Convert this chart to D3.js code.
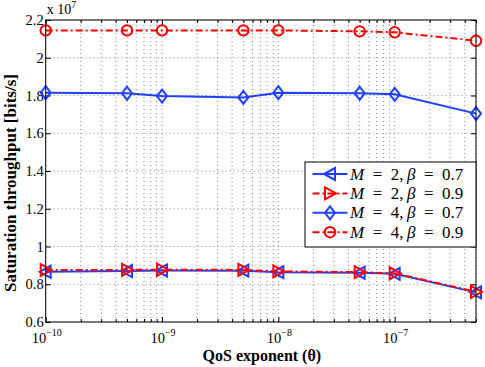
<!DOCTYPE html>
<html>
<head>
<meta charset="utf-8">
<script src="https://cdn.jsdelivr.net/npm/d3@7"></script>
<style>
  body { margin: 0; background: #fff; }
  svg text { font-family: "Liberation Serif", "Times New Roman", serif; fill: #000; }
</style>
</head>
<body>
<div id="chart"></div>
<script>
// QoS exponent values (x)
var theta = [1e-10, 5e-10, 1e-9, 5e-9, 1e-8, 5e-8, 1e-7, 5e-7];

// saturation throughput, units of 1e7 bits/s
var m2b07 = [0.866, 0.870, 0.873, 0.872, 0.864, 0.861, 0.855, 0.757];
var m2b09 = [0.875, 0.876, 0.877, 0.876, 0.868, 0.864, 0.858, 0.760];
var m4b07 = [1.815, 1.812, 1.797, 1.790, 1.815, 1.812, 1.806, 1.704];
var m4b09 = [2.145, 2.145, 2.145, 2.145, 2.145, 2.140, 2.135, 2.090];

var xTicks = [1e-10, 1e-9, 1e-8, 1e-7];
var xTickExp = ["\u221210", "\u22129", "\u22128", "\u22127"];
var yTicks = [0.6, 0.8, 1, 1.2, 1.4, 1.6, 1.8, 2, 2.2];
var yTickLabels = ["0.6", "0.8", "1", "1.2", "1.4", "1.6", "1.8", "2", "2.2"];

var series = [
    { M: "2", beta: "0.7", values: m2b07, color: "#2040ff", dash: null, marker: "triLeft" },
    { M: "2", beta: "0.9", values: m2b09, color: "#ff0000", dash: "7,3,2,3", marker: "triRight" },
    { M: "4", beta: "0.7", values: m4b07, color: "#2040ff", dash: null, marker: "diamond" },
    { M: "4", beta: "0.9", values: m4b09, color: "#ff0000", dash: "7,3,2,3", marker: "circle" }
];

var width = 485, height = 367;
var margin = { left: 45.7, right: 9, top: 20, bottom: 45 };

var svg = d3.select("#chart").append("svg")
    .attr("width", width)
    .attr("height", height);

var x = d3.scaleLog()
    .domain([1e-10, 5e-7])
    .range([margin.left, width - margin.right]);

var y = d3.scaleLinear()
    .domain([0.6, 2.2])
    .range([height - margin.bottom, margin.top]);

var x0 = x.range()[0], x1 = x.range()[1];
var y0 = y.range()[0], y1 = y.range()[1];

// minor x positions (2..9 of each decade)
var xMinor = [];
for (var e = -10; e <= -7; e++) {
    for (var k = 2; k <= 9; k++) {
        var v = k * Math.pow(10, e);
        if (v <= 5e-7) xMinor.push(v);
    }
}

// grid
var grid = svg.append("g").attr("class", "grid");
grid.selectAll("line.gx")
    .data(xTicks.concat(xMinor))
    .enter().append("line")
    .attr("x1", function(d) { return x(d); })
    .attr("x2", function(d) { return x(d); })
    .attr("y1", y0).attr("y2", y1)
    .attr("stroke", "#8a8a8a")
    .attr("stroke-width", 1)
    .attr("stroke-dasharray", "1,3");
grid.selectAll("line.gy")
    .data(yTicks)
    .enter().append("line")
    .attr("x1", x0).attr("x2", x1)
    .attr("y1", function(d) { return y(d); })
    .attr("y2", function(d) { return y(d); })
    .attr("stroke", "#8a8a8a")
    .attr("stroke-width", 1)
    .attr("stroke-dasharray", "1,3");

// axes with inward ticks
function styleAxis(g) {
    g.select(".domain").remove();
    g.selectAll("line").attr("stroke", "#000");
    g.selectAll("text").remove();
}
svg.append("g").attr("transform", "translate(0," + y0 + ")")
    .call(d3.axisBottom(x).tickValues(xTicks).tickSizeInner(-5).tickSizeOuter(0)).call(styleAxis);
svg.append("g").attr("transform", "translate(0," + y0 + ")")
    .call(d3.axisBottom(x).tickValues(xMinor).tickSizeInner(-3).tickSizeOuter(0)).call(styleAxis);
svg.append("g").attr("transform", "translate(0," + y1 + ")")
    .call(d3.axisTop(x).tickValues(xTicks).tickSizeInner(-5).tickSizeOuter(0)).call(styleAxis);
svg.append("g").attr("transform", "translate(0," + y1 + ")")
    .call(d3.axisTop(x).tickValues(xMinor).tickSizeInner(-3).tickSizeOuter(0)).call(styleAxis);
svg.append("g").attr("transform", "translate(" + x0 + ",0)")
    .call(d3.axisLeft(y).tickValues(yTicks).tickSizeInner(-5).tickSizeOuter(0)).call(styleAxis);
svg.append("g").attr("transform", "translate(" + x1 + ",0)")
    .call(d3.axisRight(y).tickValues(yTicks).tickSizeInner(-5).tickSizeOuter(0)).call(styleAxis);

// tick labels
svg.selectAll("text.ylab")
    .data(yTicks)
    .enter().append("text")
    .attr("x", x0 - 2)
    .attr("y", function(d) { return y(d) + 5; })
    .attr("text-anchor", "end")
    .style("font-size", "14.5px")
    .text(function(d, i) { return yTickLabels[i]; });

var xl = svg.selectAll("text.xlab")
    .data(xTicks)
    .enter().append("text")
    .attr("x", function(d) { return x(d) + 1; })
    .attr("y", y0 + 21)
    .attr("text-anchor", "middle")
    .style("font-size", "14.5px");
xl.append("tspan").text("10");
xl.append("tspan")
    .attr("dy", -7)
    .style("font-size", "10px")
    .text(function(d, i) { return xTickExp[i]; });

// exponent note
var note = svg.append("text").attr("x", x0 + 1).attr("y", 14).style("font-size", "14px");
note.append("tspan").text("x 10");
note.append("tspan").attr("dy", -6).style("font-size", "10px").text("7");

// axis titles
svg.append("text")
    .attr("x", (x0 + x1) / 2 + 1)
    .attr("y", 361)
    .attr("text-anchor", "middle")
    .style("font-size", "16px")
    .style("font-weight", "bold")
    .text("QoS exponent (\u03b8)");

svg.append("text")
    .attr("transform", "translate(16,183) rotate(-90)")
    .attr("text-anchor", "middle")
    .style("font-size", "17px")
    .style("font-weight", "bold")
    .text("Saturation throughput [bits/s]");

// markers
function drawMarker(g, type, color) {
    if (type === "circle") {
        g.append("circle").attr("r", 5.2);
    } else if (type === "diamond") {
        g.append("path").attr("d", "M0,-6.5L5,0L0,6.5L-5,0Z");
    } else if (type === "triLeft") {
        g.append("path").attr("d", "M-6,0L5,-6L5,6Z");
    } else if (type === "triRight") {
        g.append("path").attr("d", "M6,0L-5,-6L-5,6Z");
    }
    g.selectAll("circle,path")
        .attr("fill", "none")
        .attr("stroke", color)
        .attr("stroke-width", 2);
}

var line = d3.line()
    .x(function(d, i) { return x(theta[i]); })
    .y(function(d) { return y(d); });

series.forEach(function(s) {
    svg.append("path")
        .datum(s.values)
        .attr("fill", "none")
        .attr("stroke", s.color)
        .attr("stroke-width", 2)
        .attr("stroke-dasharray", s.dash)
        .attr("d", line);
    s.values.forEach(function(v, i) {
        var g = svg.append("g").attr("transform", "translate(" + x(theta[i]) + "," + y(v) + ")");
        drawMarker(g, s.marker, s.color);
    });
});

// frame
svg.append("rect")
    .attr("x", x0).attr("y", y1)
    .attr("width", x1 - x0).attr("height", y0 - y1)
    .attr("fill", "none")
    .attr("stroke", "#000")
    .attr("stroke-width", 1);

// legend
var legend = svg.append("g").attr("transform", "translate(305,162)");
legend.append("rect")
    .attr("width", x1 - 305).attr("height", 85)
    .attr("fill", "#fff")
    .attr("stroke", "#000")
    .attr("stroke-width", 1);

series.forEach(function(s, i) {
    var ry = 12 + i * 19.4;
    legend.append("line")
        .attr("x1", 7.5).attr("x2", 42.5)
        .attr("y1", ry).attr("y2", ry)
        .attr("stroke", s.color)
        .attr("stroke-width", 2)
        .attr("stroke-dasharray", s.dash);
    var mg = legend.append("g").attr("transform", "translate(25," + ry + ")");
    drawMarker(mg, s.marker, s.color);
    var t = legend.append("text")
        .attr("x", 45)
        .attr("y", ry + 5.5)
        .style("font-size", "17px");
    t.append("tspan").style("font-style", "italic").text("M");
    t.append("tspan").text("\u2002=\u2002" + s.M + ",\u2009");
    t.append("tspan").style("font-style", "italic").text("\u03b2");
    t.append("tspan").text("\u2002=\u2002" + s.beta);
});
</script>
</body>
</html>
